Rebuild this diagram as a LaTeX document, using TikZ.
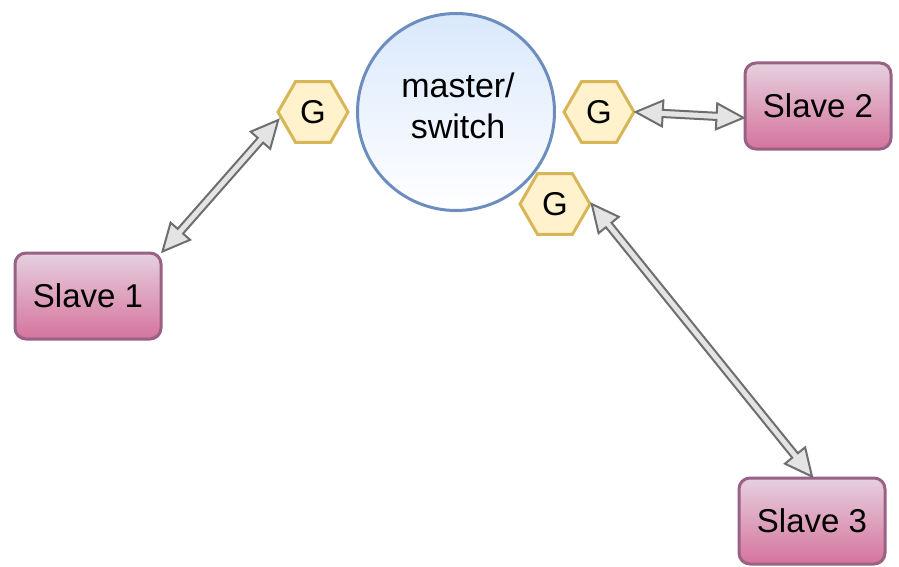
\documentclass[tikz,border=0pt]{standalone}
\usepackage{fontspec}
\setmainfont{Liberation Sans}
\usetikzlibrary{shapes.geometric,calc}
\definecolor{hexfill}{HTML}{FFF2CC}
\definecolor{hexline}{HTML}{D6B656}
\definecolor{hubtop}{HTML}{DAE8FC}
\definecolor{hubline}{HTML}{6C8EBF}
\definecolor{slavetop}{HTML}{E6D0DE}
\definecolor{slavebot}{HTML}{D5739D}
\definecolor{slaveline}{HTML}{996185}
\definecolor{linkline}{HTML}{6E6E6E}
\definecolor{linkfill}{HTML}{E4E4E4}
\tikzset{
  hub/.style={circle, draw=hubline, line width=3pt, minimum size=197pt,
    top color=hubtop, bottom color=white, inner sep=0pt},
  hubtxt/.style={align=center, font=\fontsize{34}{41}\selectfont},
  gate/.style={regular polygon, regular polygon sides=6, draw=hexline,
    line width=3pt, fill=hexfill, minimum size=70pt, inner sep=0pt,
    font=\fontsize{33}{36}\selectfont},
  slave/.style={rectangle, rounded corners=11pt, draw=slaveline, line width=3pt,
    top color=slavetop, bottom color=slavebot, minimum width=146pt,
    minimum height=86pt, font=\fontsize{33}{36}\selectfont},
  % hollow two-headed block arrow drawn as one closed outline
  link/.style={draw=linkline, fill=linkfill, line width=2pt, line join=miter,
    to path={let \p1=(\tikztostart), \p2=(\tikztotarget) in
      -- ($(\p1)!27pt!(\p2)!13pt!90:(\p2)$)
      -- ($(\p1)!27pt!(\p2)!3.6pt!90:(\p2)$)
      -- ($(\p2)!27pt!(\p1)!3.6pt!90:(\p2)$)
      -- ($(\p2)!27pt!(\p1)!13pt!90:(\p2)$)
      -- (\p2)
      -- ($(\p2)!27pt!(\p1)!13pt!-90:(\p2)$)
      -- ($(\p2)!27pt!(\p1)!3.6pt!-90:(\p2)$)
      -- ($(\p1)!27pt!(\p2)!3.6pt!-90:(\p2)$)
      -- ($(\p1)!27pt!(\p2)!13pt!-90:(\p2)$)
      -- cycle}}
}
\begin{document}
\begin{tikzpicture}[x=1pt, y=-1pt]
  \useasboundingbox (0,0) rectangle (899,567);
  % switch and its three ports
  \node[hub] (hub) at (456,112) {};
  \node[hubtxt] (hubtext) at (458,106) {master/\\switch};
  \node[gate] (gL) at (313,112) {G};
  \node[gate] (gR) at (599,112) {G};
  \node[gate] (gB) at (555,204) {G};
  % slave stations
  \node[slave] (s1) at (88,296) {Slave 1};
  \node[slave] (s2) at (818,106) {Slave 2};
  \node[slave] (s3) at (812,521) {Slave 3};
  % bidirectional links
  \path[link] (s1.north east) to ($(gL.west)+(2,8)$);
  \path[link] (gR.east) to (s2.189);
  \path[link] (gB.east) to (s3.north);
\end{tikzpicture}
\end{document}
